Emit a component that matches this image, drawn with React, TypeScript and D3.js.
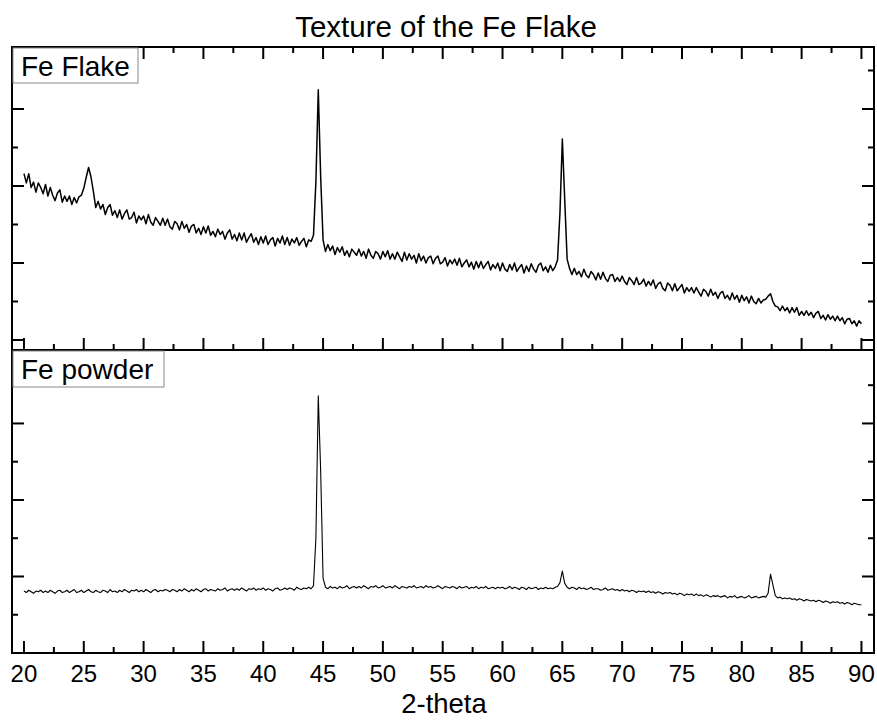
import React from 'react';
import * as d3 from 'd3';

const TITLE = 'Texture of the Fe Flake';
const X_LABEL = '2-theta';
const PANEL_LABELS = ['Fe Flake', 'Fe powder'];

// sampling grid of the scan: 20° .. 90°, every 0.2°
const X_START = 20;
const X_STEP = 0.2;

// Fe Flake intensity (arb. units)
const flakeIntensity = [
  216, 204, 216, 198, 205, 192, 204, 198, 190, 202,
  187, 198, 188, 181, 191, 195, 179, 187, 180, 187,
  176, 185, 178, 186, 188, 197, 211, 224, 212, 193,
  172, 180, 170, 176, 163, 172, 176, 162, 168, 159,
  169, 157, 164, 169, 157, 159, 166, 152, 161, 156,
  161, 151, 163, 153, 149, 159, 154, 149, 158, 149,
  157, 147, 144, 154, 151, 143, 154, 145, 150, 140,
  148, 150, 139, 145, 137, 147, 139, 148, 136, 141,
  134, 144, 137, 141, 131, 139, 143, 131, 137, 129,
  139, 130, 139, 127, 133, 138, 127, 133, 124, 134,
  126, 135, 124, 130, 133, 122, 132, 126, 135, 124,
  133, 123, 131, 126, 133, 123, 128, 132, 121, 130,
  128, 136, 205, 325, 212, 130, 115, 124, 116, 122,
  111, 120, 114, 121, 110, 116, 108, 118, 114, 110,
  118, 109, 115, 106, 118, 110, 106, 115, 112, 105,
  115, 108, 116, 105, 112, 105, 114, 108, 102, 114,
  104, 112, 105, 110, 100, 112, 103, 109, 100, 107,
  109, 99, 106, 109, 99, 101, 107, 96, 104, 99,
  105, 97, 106, 95, 100, 104, 95, 101, 92, 102,
  94, 102, 93, 98, 102, 91, 98, 93, 100, 90,
  100, 92, 89, 98, 91, 100, 89, 94, 98, 87,
  96, 89, 99, 92, 88, 97, 100, 90, 95, 88,
  97, 90, 95, 104, 165, 261, 182, 105, 93, 85,
  93, 85, 89, 82, 92, 84, 81, 89, 85, 78,
  87, 79, 88, 80, 76, 84, 85, 76, 81, 76,
  83, 76, 72, 81, 77, 72, 81, 72, 74, 79,
  70, 76, 71, 78, 67, 73, 75, 67, 64, 74,
  71, 64, 73, 64, 68, 72, 61, 68, 63, 68,
  61, 68, 62, 57, 66, 63, 57, 66, 58, 62,
  54, 61, 63, 54, 58, 52, 61, 53, 58, 49,
  58, 51, 56, 48, 57, 50, 47, 54, 48, 52,
  53, 57, 60, 50, 44, 43, 38, 44, 38, 42,
  35, 42, 36, 42, 32, 37, 32, 38, 32, 36,
  29, 35, 37, 28, 32, 26, 33, 27, 31, 25,
  31, 25, 29, 21, 27, 28, 21, 25, 18, 25,
  21,
];

// Fe powder intensity (arb. units)
const powderIntensity = [
  81, 79, 82, 80, 78, 81, 80, 82, 79, 81,
  79, 82, 80, 78, 81, 82, 79, 80, 82, 79,
  81, 83, 79, 80, 82, 79, 81, 83, 80, 79,
  82, 80, 79, 82, 81, 79, 83, 80, 81, 79,
  82, 80, 83, 81, 79, 82, 81, 83, 80, 82,
  80, 83, 81, 79, 82, 83, 80, 82, 81, 83,
  82, 80, 83, 82, 80, 83, 81, 84, 82, 80,
  83, 81, 84, 82, 80, 83, 84, 81, 83, 82,
  81, 84, 82, 83, 85, 81, 83, 84, 82, 84,
  82, 85, 83, 81, 84, 83, 85, 82, 84, 83,
  85, 82, 84, 83, 81, 84, 85, 82, 83, 85,
  83, 85, 84, 82, 86, 84, 83, 85, 84, 86,
  84, 88, 150, 336, 238, 98, 86, 84, 87, 85,
  86, 84, 87, 85, 86, 88, 84, 86, 87, 85,
  87, 85, 88, 86, 84, 87, 86, 88, 85, 86,
  88, 85, 86, 87, 85, 88, 86, 84, 87, 86,
  85, 87, 86, 88, 85, 86, 87, 85, 88, 86,
  87, 85, 86, 88, 86, 84, 87, 86, 85, 87,
  86, 84, 87, 85, 86, 87, 84, 86, 85, 87,
  84, 86, 85, 87, 84, 85, 86, 84, 86, 85,
  86, 84, 85, 87, 84, 86, 85, 83, 86, 85,
  83, 86, 84, 85, 86, 83, 85, 84, 86, 84,
  85, 84, 86, 87, 92, 107, 91, 86, 84, 86,
  85, 83, 86, 84, 85, 83, 84, 86, 83, 84,
  84, 82, 83, 85, 82, 83, 84, 82, 83, 81,
  83, 81, 82, 80, 82, 81, 79, 81, 80, 81,
  79, 81, 79, 80, 78, 80, 79, 77, 79, 78,
  79, 77, 78, 76, 78, 77, 75, 77, 76, 77,
  75, 77, 75, 76, 74, 76, 75, 73, 75, 74,
  75, 73, 74, 75, 72, 74, 73, 75, 72, 73,
  74, 72, 73, 75, 72, 73, 74, 72, 73, 74,
  73, 78, 103, 89, 75, 72, 73, 71, 72, 71,
  72, 70, 71, 69, 71, 70, 68, 70, 69, 68,
  69, 67, 69, 68, 66, 68, 67, 65, 67, 66,
  67, 65, 66, 64, 66, 65, 63, 65, 64, 63,
  63,
];

const xMajorTicks = [20, 25, 30, 35, 40, 45, 50, 55, 60, 65, 70, 75, 80, 85, 90];
const xMinorTicks = [22.5, 27.5, 32.5, 37.5, 42.5, 47.5, 52.5, 57.5, 62.5, 67.5, 72.5, 77.5, 82.5, 87.5];
const flakeMajorTicks = [0, 100, 200, 300];
const flakeMinorTicks = [50, 150, 250, 350];
const powderMajorTicks = [100, 200, 300];
const powderMinorTicks = [50, 150, 250, 350];

const FONT = "'Liberation Sans', Arial, Helvetica, sans-serif";

export default function App() {
  const W = 877;
  const H = 720;
  const left = 12;
  const right = 874;
  const top = 47;
  const mid = 350;
  const bottom = 653;
  const MAJ = 12;
  const MIN = 6;

  const x = d3.scaleLinear().domain([19, 91.05]).range([left, right]);
  const yTop = d3.scaleLinear().domain([-13, 380.5]).range([mid, top]);
  const yBot = d3.scaleLinear().domain([0, 396]).range([bottom, mid]);

  const flakeData = flakeIntensity.map((v, i) => [X_START + i * X_STEP, v] as [number, number]);
  const powderData = powderIntensity.map((v, i) => [X_START + i * X_STEP, v] as [number, number]);

  const lineTop = d3.line<[number, number]>().x(d => x(d[0])).y(d => yTop(d[1]));
  const lineBot = d3.line<[number, number]>().x(d => x(d[0])).y(d => yBot(d[1]));

  const tickStyle = { stroke: '#000', strokeWidth: 2 };

  const xTicksAt = (yy: number, dir: number, key: string) => (
    <g key={key}>
      {xMajorTicks.map(t => (
        <line key={'M' + t} x1={x(t)} x2={x(t)} y1={yy} y2={yy + dir * MAJ} {...tickStyle} />
      ))}
      {xMinorTicks.map(t => (
        <line key={'m' + t} x1={x(t)} x2={x(t)} y1={yy} y2={yy + dir * MIN} {...tickStyle} />
      ))}
    </g>
  );

  const yTicks = (scale: d3.ScaleLinear<number, number>, majors: number[], minors: number[], key: string) => (
    <g key={key}>
      {majors.map(t => (
        <g key={'M' + t}>
          <line x1={left} x2={left + MAJ} y1={scale(t)} y2={scale(t)} {...tickStyle} />
          <line x1={right} x2={right - MAJ} y1={scale(t)} y2={scale(t)} {...tickStyle} />
        </g>
      ))}
      {minors.map(t => (
        <g key={'m' + t}>
          <line x1={left} x2={left + MIN} y1={scale(t)} y2={scale(t)} {...tickStyle} />
          <line x1={right} x2={right - MIN} y1={scale(t)} y2={scale(t)} {...tickStyle} />
        </g>
      ))}
    </g>
  );

  return (
    <svg
      width={W}
      height={H}
      viewBox={`0 0 ${W} ${H}`}
      style={{ position: 'absolute', left: 0, top: 0, background: '#fff' }}
    >
      <defs>
        <clipPath id="clipTop">
          <rect x={left} y={top} width={right - left} height={mid - top} />
        </clipPath>
        <clipPath id="clipBot">
          <rect x={left} y={mid} width={right - left} height={bottom - mid} />
        </clipPath>
      </defs>
      <rect x={0} y={0} width={W} height={H} fill="#fff" />

      <text x={446} y={37} textAnchor="middle" fontFamily={FONT} fontSize={29.5} fill="#000">
        {TITLE}
      </text>

      <g clipPath="url(#clipTop)">
        <path d={lineTop(flakeData) || ''} fill="none" stroke="#000" strokeWidth={1.5} strokeLinejoin="round" />
      </g>
      <g clipPath="url(#clipBot)">
        <path d={lineBot(powderData) || ''} fill="none" stroke="#000" strokeWidth={1.1} strokeLinejoin="round" />
      </g>

      {xTicksAt(top, 1, 'xt-top')}
      {xTicksAt(mid, -1, 'xt-mid')}
      {xTicksAt(bottom, -1, 'xt-bot')}
      {yTicks(yTop, flakeMajorTicks, flakeMinorTicks, 'yt-top')}
      {yTicks(yBot, powderMajorTicks, powderMinorTicks, 'yt-bot')}

      <rect x={left} y={top} width={right - left} height={mid - top} fill="none" stroke="#000" strokeWidth={2} />
      <rect x={left} y={mid} width={right - left} height={bottom - mid} fill="none" stroke="#000" strokeWidth={2} />

      <rect x={left + 1} y={top + 1} width={125} height={35} fill="#fff" stroke="#888" strokeWidth={1} />
      <text x={21} y={76} fontFamily={FONT} fontSize={28} fill="#000">{PANEL_LABELS[0]}</text>

      <rect x={left + 1} y={mid + 1} width={151} height={36} fill="#fff" stroke="#888" strokeWidth={1} />
      <text x={21} y={379} fontFamily={FONT} fontSize={28} fill="#000">{PANEL_LABELS[1]}</text>

      {xMajorTicks.map(t => (
        <text key={'lbl' + t} x={x(t)} y={682} textAnchor="middle" fontFamily={FONT} fontSize={24} fill="#000">
          {t}
        </text>
      ))}

      <text x={444} y={713} textAnchor="middle" fontFamily={FONT} fontSize={27.5} fill="#000">
        {X_LABEL}
      </text>
    </svg>
  );
}
